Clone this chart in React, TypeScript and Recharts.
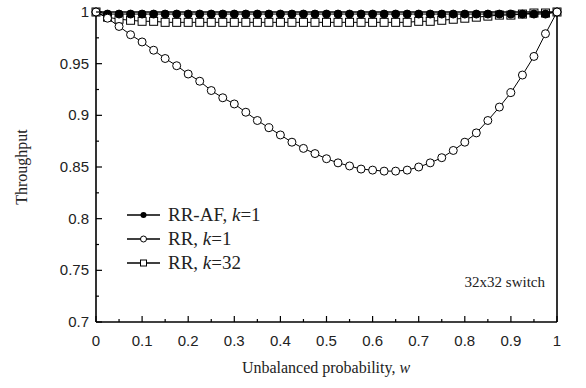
import { LineChart, Line, XAxis, YAxis, ReferenceLine } from "recharts";

const W_VALUES = [
  0, 0.025, 0.05, 0.075, 0.1, 0.125, 0.15, 0.175, 0.2, 0.225, 0.25, 0.275, 0.3, 0.325,
  0.35, 0.375, 0.4, 0.425, 0.45, 0.475, 0.5, 0.525, 0.55, 0.575, 0.6, 0.625, 0.65,
  0.675, 0.7, 0.725, 0.75, 0.775, 0.8, 0.825, 0.85, 0.875, 0.9, 0.925, 0.95, 0.975, 1,
];

const RR_AF_K1 = [
  1.0, 0.998, 0.998, 0.998, 0.998, 0.998, 0.998, 0.998, 0.998, 0.998, 0.998, 0.998,
  0.998, 0.998, 0.998, 0.998, 0.998, 0.998, 0.998, 0.998, 0.998, 0.998, 0.998, 0.998,
  0.998, 0.998, 0.998, 0.998, 0.998, 0.998, 0.998, 0.998, 0.998, 0.998, 0.998, 0.998,
  0.998, 0.998, 0.998, 0.998, 1.0,
];

const RR_K1 = [
  1.0, 0.994, 0.986, 0.978, 0.971, 0.963, 0.955, 0.948, 0.94, 0.933, 0.924, 0.917,
  0.911, 0.903, 0.895, 0.888, 0.881, 0.874, 0.868, 0.863, 0.858, 0.854, 0.851, 0.848,
  0.847, 0.846, 0.846, 0.847, 0.85, 0.854, 0.859, 0.866, 0.874, 0.883, 0.895, 0.908,
  0.922, 0.939, 0.957, 0.979, 1.0,
];

const RR_K32 = [
  1.0, 0.995, 0.993, 0.992, 0.991, 0.991, 0.99, 0.99, 0.99, 0.99, 0.99, 0.99, 0.99,
  0.99, 0.99, 0.99, 0.99, 0.99, 0.99, 0.99, 0.99, 0.99, 0.99, 0.99, 0.99, 0.99, 0.99,
  0.99, 0.991, 0.991, 0.992, 0.993, 0.994, 0.995, 0.996, 0.997, 0.997, 0.998, 0.999,
  0.999, 1.0,
];

const X_MAJOR = [0, 0.1, 0.2, 0.3, 0.4, 0.5, 0.6, 0.7, 0.8, 0.9, 1];
const X_MINOR = [0.05, 0.15, 0.25, 0.35, 0.45, 0.55, 0.65, 0.75, 0.85, 0.95];
const Y_MAJOR = [0.7, 0.75, 0.8, 0.85, 0.9, 0.95, 1];
const Y_MINOR = [0.725, 0.775, 0.825, 0.875, 0.925, 0.975];

const data = W_VALUES.map((w, i) => ({
  w,
  rraf: RR_AF_K1[i],
  rr1: RR_K1[i],
  rr32: RR_K32[i],
}));

const PLOT_LEFT = 96;
const PLOT_BOTTOM = 322;
const SANS = "'Liberation Sans', Arial, sans-serif";
const SERIF = "'Liberation Serif', 'Times New Roman', serif";

const XTick = ({ x, payload }: any) => {
  const major = X_MAJOR.includes(payload.value);
  return (
    <g>
      <line x1={x} x2={x} y1={PLOT_BOTTOM} y2={PLOT_BOTTOM - (major ? 6 : 3)} stroke="#000" strokeWidth={1.2} />
      {major && (
        <text x={x} y={PLOT_BOTTOM + 24} textAnchor="middle" fontFamily={SANS} fontSize={15} fill="#222">
          {String(payload.value)}
        </text>
      )}
    </g>
  );
};

const YTick = ({ y, payload }: any) => {
  const major = Y_MAJOR.includes(payload.value);
  return (
    <g>
      <line x1={PLOT_LEFT} x2={PLOT_LEFT + (major ? 6 : 3)} y1={y} y2={y} stroke="#000" strokeWidth={1.2} />
      {major && (
        <text x={PLOT_LEFT - 7} y={y + 5} textAnchor="end" fontFamily={SANS} fontSize={15} fill="#222">
          {String(payload.value)}
        </text>
      )}
    </g>
  );
};

const SquareDot = (props: any) => {
  const { cx, cy, index } = props;
  return <rect key={`sq-${index}`} x={cx - 4} y={cy - 4} width={8} height={8} fill="#fff" stroke="#000" strokeWidth={1} />;
};

const LEGEND_ROWS = [
  { name: "RR-AF", k: "1", marker: "filled" },
  { name: "RR", k: "1", marker: "open" },
  { name: "RR", k: "32", marker: "square" },
];

export default function App() {
  return (
    <div style={{ position: "absolute", left: 0, top: 0, width: 586, height: 388, background: "#fff" }}>
      <LineChart width={586} height={388} data={data} margin={{ top: 12, right: 29, bottom: 0, left: 0 }}>
        <XAxis
          dataKey="w"
          type="number"
          domain={[0, 1]}
          ticks={[...X_MAJOR, ...X_MINOR].sort((a, b) => a - b)}
          interval={0}
          tick={<XTick />}
          tickLine={false}
          axisLine={{ stroke: "#000", strokeWidth: 1.6 }}
          height={66}
        />
        <YAxis
          type="number"
          domain={[0.7, 1]}
          ticks={[...Y_MAJOR, ...Y_MINOR].sort((a, b) => a - b)}
          interval={0}
          tick={<YTick />}
          tickLine={false}
          axisLine={{ stroke: "#000", strokeWidth: 1.6 }}
          width={96}
        />
        <ReferenceLine y={1} stroke="#000" strokeWidth={1.6} />
        <ReferenceLine x={1} stroke="#000" strokeWidth={1.6} />
        <Line
          dataKey="rr32"
          stroke="#000"
          strokeWidth={1}
          dot={SquareDot}
          isAnimationActive={false}
        />
        <Line
          dataKey="rraf"
          stroke="#000"
          strokeWidth={1}
          dot={{ r: 4, fill: "#000", stroke: "#000", strokeWidth: 1 }}
          isAnimationActive={false}
        />
        <Line
          dataKey="rr1"
          stroke="#000"
          strokeWidth={1}
          dot={{ r: 4, fill: "#fff", stroke: "#000", strokeWidth: 1 }}
          isAnimationActive={false}
        />
      </LineChart>
      <svg width={586} height={388} style={{ position: "absolute", left: 0, top: 0, pointerEvents: "none" }}>
        <text x={326} y={373} textAnchor="middle" fontFamily={SERIF} fontSize={16} fill="#222">
          Unbalanced probability, <tspan fontStyle="italic">w</tspan>
        </text>
        <text transform="translate(27,167) rotate(-90)" textAnchor="middle" fontFamily={SERIF} fontSize={16} fill="#222">
          Throughput
        </text>
        {LEGEND_ROWS.map((row, i) => {
          const y = 215 + i * 24;
          return (
            <g key={i}>
              <line x1={127} x2={160} y1={y} y2={y} stroke="#000" strokeWidth={1.3} />
              {row.marker === "filled" && <circle cx={143.5} cy={y} r={3} fill="#000" />}
              {row.marker === "open" && <circle cx={143.5} cy={y} r={3} fill="#fff" stroke="#000" />}
              {row.marker === "square" && <rect x={140.5} y={y - 3} width={6} height={6} fill="#fff" stroke="#000" />}
              <text x={168} y={y + 6} fontFamily={SERIF} fontSize={19} fill="#222">
                {row.name}, <tspan fontStyle="italic">k</tspan>={row.k}
              </text>
            </g>
          );
        })}
        <text x={545} y={287} textAnchor="end" fontFamily={SERIF} fontSize={15} fill="#222">
          32x32 switch
        </text>
      </svg>
    </div>
  );
}
